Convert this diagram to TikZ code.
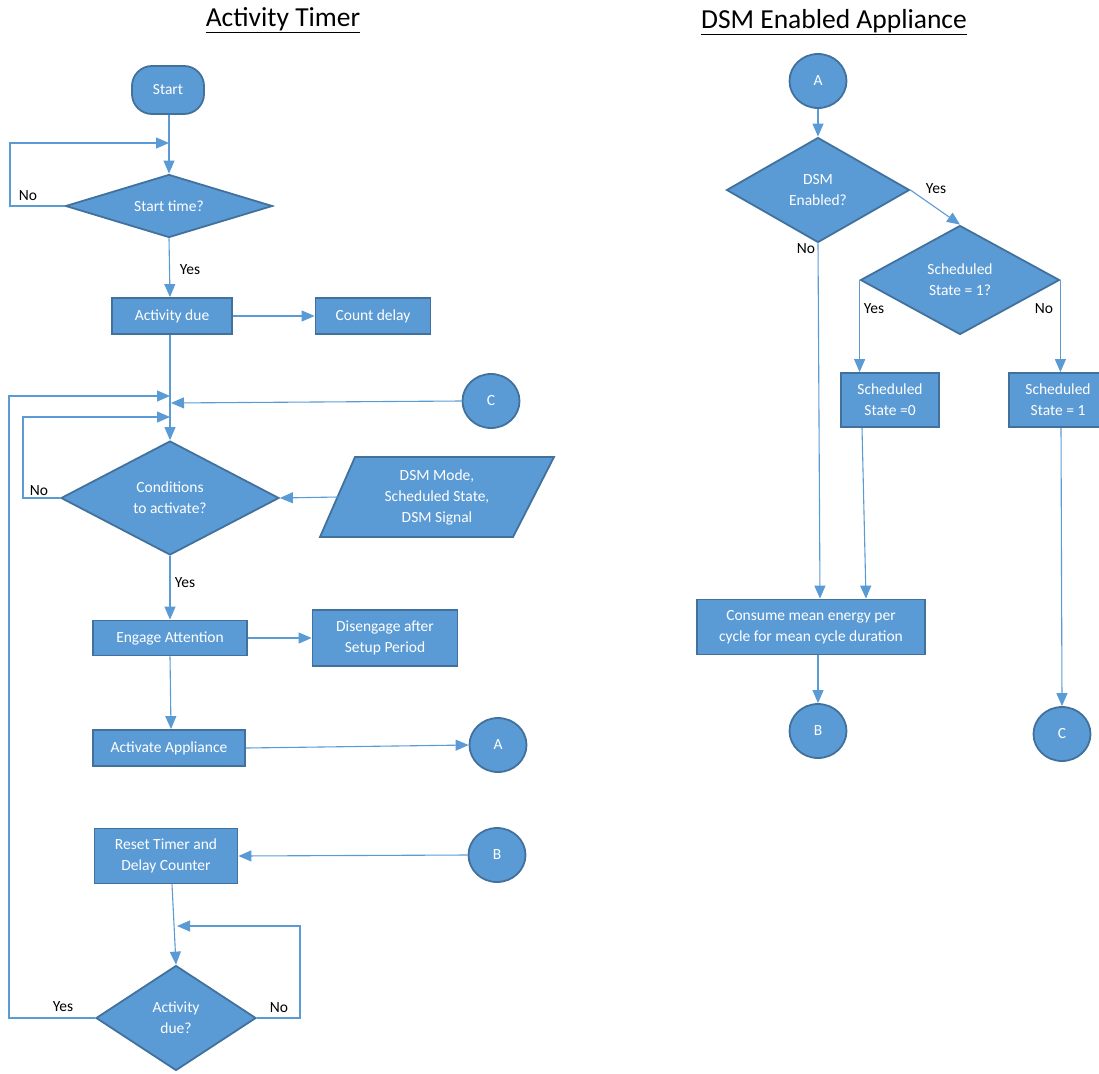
\documentclass[tikz,border=0pt]{standalone}
\usepackage{fontspec}
\setmainfont{Carlito}
\usetikzlibrary{shapes.geometric,arrows.meta,calc}
\definecolor{boxfill}{HTML}{5B9BD5}
\definecolor{boxline}{HTML}{41719C}
\definecolor{wire}{HTML}{5B9BD5}

\begin{document}
\begin{tikzpicture}[x=1pt,y=-1pt,
  base/.style={fill=boxfill,draw=boxline,line width=1.8pt,text=white,
    font=\fontsize{15.5}{21}\selectfont,align=center,inner sep=0pt},
  box/.style 2 args={base,rectangle,minimum width=#1,minimum height=#2},
  dia/.style 2 args={base,diamond,aspect=2,minimum width=#1,minimum height=#2},
  circ/.style={base,ellipse,minimum width=57,minimum height=54},
  txt/.style={text=white,font=\fontsize{15.5}{21}\selectfont,align=center,inner sep=0pt},
  lab/.style={text=black,font=\fontsize{15.5}{19}\selectfont,inner sep=0pt},
  heading/.style={text=black,font=\fontsize{27.5}{33}\selectfont,inner sep=0pt},
  flow/.style={draw=wire,line width=1.1pt,-{Triangle[length=13pt,width=11pt]}}]

\useasboundingbox (0,0) rectangle (1099,1073);

% headings
\node[heading] (h1) at (283,20) {\underline{Activity Timer}};
\node[heading] (h2) at (834,22) {\underline{DSM Enabled Appliance}};

% ---------- Activity timer ----------
\node[box={72}{48},rounded corners=20pt] (start) at (168,90) {Start};
\node[dia={207}{63}] (d1) at (169,206) {Start time?};
\node[box={120}{36}] (due) at (172,316) {Activity due};
\node[box={115}{36}] (cnt) at (373,316) {Count delay};
\node[circ] (cC) at (491,401) {C};
\node[dia={218}{114}] (d2) at (170,498) {Conditions\\to activate?};

% input parallelogram
\filldraw[fill=boxfill,draw=boxline,line width=1.8pt]
  (355,457) -- (554,457) -- (513,537) -- (320,537) -- cycle;
\node[txt] (inp) at (437,497) {DSM Mode,\\Scheduled State,\\DSM Signal};
\coordinate (inpL) at (338,497);

\node[box={154}{35}] (eng) at (170,638) {Engage Attention};
\node[box={145}{56}] (dis) at (385,638) {Disengage after\\Setup Period};
\node[box={152}{36}] (act) at (169,748) {Activate Appliance};
\node[circ] (cA) at (498,745) {A};
\node[box={143}{55}] (rst) at (166,856) {Reset Timer and\\Delay Counter};
\node[circ] (cB) at (497,855) {B};
\node[dia={160}{105}] (d3) at (176,1018) {Activity\\due?};

% junction points on the vertical flow lines
\coordinate (j1) at (169,143);
\coordinate (j4) at (170,396);
\coordinate (jC) at (171,403);
\coordinate (j2) at (170,417);
\coordinate (j3) at (177,926);

\draw[flow] ($(start.south)+(1,0)$) -- (d1.north);
\draw[flow] (d1.west) -- (10,206) -- (10,143) -- (j1);
\node[lab] (n1) at (28,196) {No};
\draw[flow] (d1.south) -- ($(due.north)+(-2,0)$);
\node[lab] (y1) at (190,270) {Yes};
\draw[flow] (due.east) -- (cnt.west);
\draw[flow] ($(due.south)+(-2,0)$) -- (d2.north);
\draw[flow] (cC.west) -- (jC);
\draw[flow] (d2.west) -- (23,498) -- (23,417) -- (j2);
\node[lab] (n2) at (39,491) {No};
\draw[flow] (inpL) -- (d2.east);
\draw[flow] (d2.south) -- (eng.north);
\node[lab] (y2) at (185,583) {Yes};
\draw[flow] (eng.east) -- (dis.west);
\draw[flow] (eng.south) -- ($(act.north)+(2,0)$);
\draw[flow] (act.east) -- (cA.west);
\draw[flow] (cB.west) -- (rst.east);
\draw[flow] ($(rst.south)+(6,0)$) -- (d3.north);
\draw[flow] (d3.east) -- (300,1018) -- (300,926) -- (j3);
\node[lab] (n3) at (279,1008) {No};
\draw[flow] (d3.west) -- (9,1018) -- (9,396) -- (j4);
\node[lab] (y3) at (63,1007) {Yes};

% ---------- DSM enabled appliance ----------
\node[circ] (rA) at (818,81) {A};
\node[dia={183}{105}] (d4) at (818,190) {DSM\\Enabled?};
\node[dia={199}{109}] (d5) at (960,280) {Scheduled\\State = 1?};
\node[box={98}{54}] (s0) at (890,400) {Scheduled\\State =0};
\node[box={98}{54}] (s1) at (1058,400) {Scheduled\\State = 1};
\node[box={228}{55}] (cons) at (811,627) {Consume mean energy per\\cycle for mean cycle duration};
\node[circ] (rB) at (818,731) {B};
\node[circ] (rC) at (1062,734) {C};

\draw[flow] (rA.south) -- (d4.north);
\draw[flow] (d4.east) -- (d5.north);
\node[lab] (y4) at (936,189) {Yes};
\draw[flow] (d5.west) -- (d5.west |- s0.north);
\node[lab] (y5) at (874,309) {Yes};
\draw[flow] (d5.east) -- (d5.east |- s1.north);
\node[lab] (n5) at (1044,309) {No};
\draw[flow] (d4.south) -- ($(cons.north)+(9,0)$);
\node[lab] (n4) at (806,249) {No};
\draw[flow] ($(s0.south)+(-28,0)$) -- ($(cons.north)+(55,0)$);
\draw[flow] ($(cons.south)+(7,0)$) -- (rB.north);
\draw[flow] ($(s1.south)+(3,0)$) -- (rC.north);

\end{tikzpicture}
\end{document}
